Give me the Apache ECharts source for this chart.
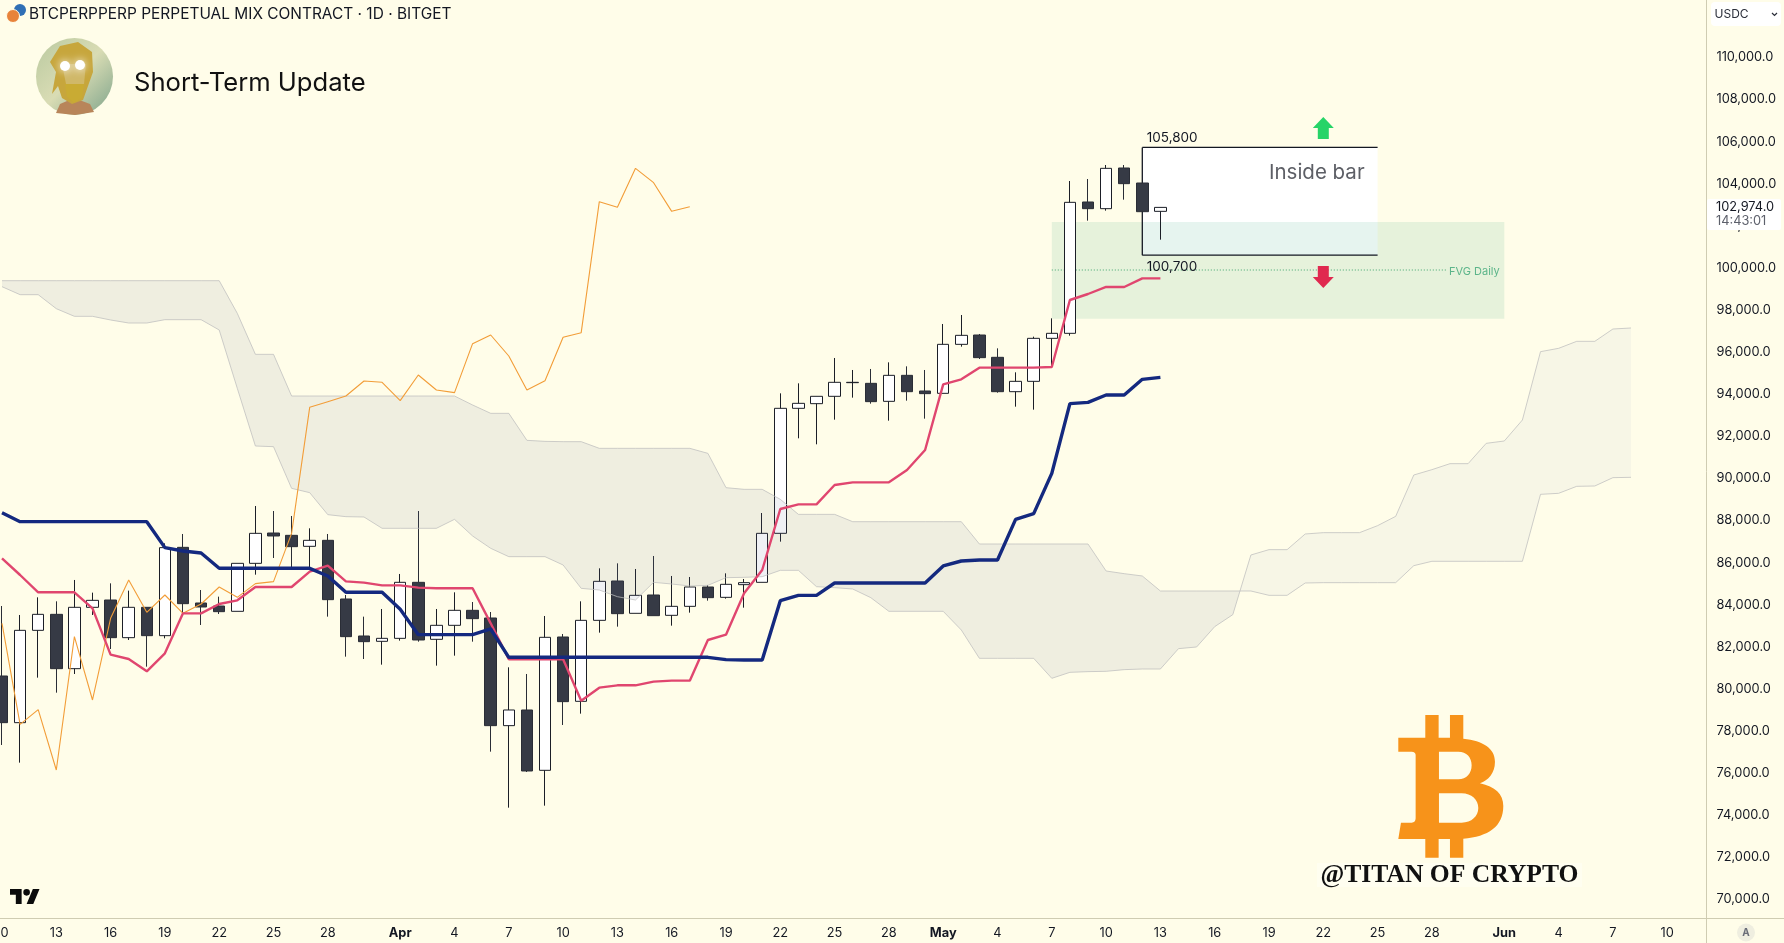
<!DOCTYPE html>
<html lang="en">
<head>
  <meta charset="UTF-8">
  <title>BTC Short-Term Update</title>
  <style>
    * { padding: 0; margin: 0; }
    html, body { width: 100%; height: 100%; background: #fffde9; overflow: hidden; }
    #chart { width: 100%; height: 100%; }
  </style>
  <script src="https://cdn.jsdelivr.net/npm/echarts@6/dist/echarts.min.js"></script>
</head>
<body>
  <div id="chart"></div>
  <script>
    // daily bars, one category per day
    var categories = [
      'Mar 10','Mar 11','Mar 12','Mar 13','Mar 14','Mar 15','Mar 16','Mar 17','Mar 18','Mar 19','Mar 20',
      'Mar 21','Mar 22','Mar 23','Mar 24','Mar 25','Mar 26','Mar 27','Mar 28','Mar 29','Mar 30','Mar 31',
      'Apr 1','Apr 2','Apr 3','Apr 4','Apr 5','Apr 6','Apr 7','Apr 8','Apr 9','Apr 10','Apr 11','Apr 12','Apr 13','Apr 14','Apr 15',
      'Apr 16','Apr 17','Apr 18','Apr 19','Apr 20','Apr 21','Apr 22','Apr 23','Apr 24','Apr 25','Apr 26','Apr 27','Apr 28','Apr 29','Apr 30',
      'May 1','May 2','May 3','May 4','May 5','May 6','May 7','May 8','May 9','May 10','May 11','May 12','May 13','May 14','May 15',
      'May 16','May 17','May 18','May 19','May 20','May 21','May 22','May 23','May 24','May 25','May 26','May 27','May 28','May 29','May 30','May 31',
      'Jun 1','Jun 2','Jun 3','Jun 4','Jun 5','Jun 6','Jun 7','Jun 8','Jun 9','Jun 10','Jun 11','Jun 12'
    ];
    var tickDates = ['Mar 10','Mar 13','Mar 16','Mar 19','Mar 22','Mar 25','Mar 28','Apr 1','Apr 4','Apr 7','Apr 10','Apr 13','Apr 16','Apr 19','Apr 22','Apr 25','Apr 28','May 1','May 4','May 7','May 10','May 13','May 16','May 19','May 22','May 25','May 28','Jun 1','Jun 4','Jun 7','Jun 10'];
    var tickLabels = ['10','13','16','19','22','25','28','Apr','4','7','10','13','16','19','22','25','28','May','4','7','10','13','16','19','22','25','28','Jun','4','7','10'];
    var priceTicks = [70000,72000,74000,76000,78000,80000,82000,84000,86000,88000,90000,92000,94000,96000,98000,100000,102000,104000,106000,108000,110000];

    var opens = [80618,78401,82787,83547,80966,83880,84228,82439,83880,82534,86730,84086,83943,83690,85970,87411,87300,86778,87063,84276,82518,82265,
      82407,85068,82360,83025,83738,83373,78259,79003,76137,82471,79415,83262,85131,83595,84466,83500,83927,84846,84355,84957,85068,87396,93334,93555,93904,94553,94521,93666,94901,94157,
      94046,96374,96817,95757,94125,94616,96659,96897,103136,102819,104751,104038,102692];
    var closes = [78401,82787,83547,80966,83880,84212,82439,83880,82534,86715,84054,83896,83674,85970,87395,87269,86762,87063,84244,82487,82249,82407,
      85068,82328,83025,83738,83342,78259,79003,76105,82455,79399,83262,85115,83579,84450,83484,83927,84846,84339,84973,85052,87395,93334,93571,93904,94569,94569,93651,94901,94125,94031,
      96374,96801,95741,94125,94616,96659,96897,103120,102819,104735,104007,102676,102880];
    var lows = [77340,76501,80539,79826,80713,83516,81901,82328,81061,82407,83516,83041,83563,83690,85432,86224,85733,85733,83437,81536,81425,81156,
      82297,82249,81109,81584,82249,77023,74363,76058,74458,78290,78829,82677,82962,83595,83484,83009,83627,84197,84292,83864,85068,87000,91909,91624,92795,93841,93555,92748,93698,92843,
      94046,96263,95677,94078,93413,93270,95313,96786,102249,102724,103247,102676,101346];
    var highs = [83943,83516,84355,84165,85179,84577,85020,84672,83880,86920,87364,84703,84387,85970,88694,88456,88219,87633,87364,84466,83437,83801,
      85464,88456,83801,84593,84133,83658,81030,80713,83468,82613,84165,85733,85970,85701,86319,85369,85321,84941,85495,85226,88361,94046,94521,93904,95725,95155,95203,95519,95329,95155,
      97340,97767,96865,96184,95044,96738,97609,104133,104228,104893,104893,104038,102880];

    var baseLine = [88377,87950,87950,87950,87950,87950,87950,87950,87950,86715,86556,86461,85733,85733,85733,85733,85733,85733,85369,84593,84593,84593,
      83785,82582,82582,82582,82582,82851,81505,81505,81505,81505,81505,81505,81505,81505,81505,81505,81505,81505,81394,81378,81378,84197,84450,84450,85036,85036,85036,85036,85036,85036,
      85844,86081,86129,86129,88060,88330,90246,93555,93619,93967,93967,94711,94807];
    var conversionLine = [86208,85416,84593,84593,84593,83833,81631,81425,80840,81695,83595,83595,84038,84212,84846,84846,84846,85574,85859,85115,85052,84925,
      84925,84814,84783,84783,84783,83120,81410,81410,81410,81410,79446,80064,80175,80175,80349,80396,80396,82328,82582,84545,85654,88552,88773,88773,89692,89818,89818,89818,90404,91354,
      94474,94711,95266,95266,95266,95266,95298,98480,98765,99098,99098,99509,99509];
    var laggingSpan = [83120,78322,79019,76153,82487,79478,83357,85179,83643,84466,83595,84038,84846,84355,85004,85099,87395,93381,93650,93920,94632,94569,
      93698,94917,94205,94078,96406,96818,95820,94205,94648,96707,96928,103152,102882,104735,104054,102692,102914];

    var spanA = [99398,99398,99398,99398,99398,99398,99398,99398,99398,99398,99398,99398,99398,97846,95899,95899,93919,93919,93919,93919,93919,93919,
      93919,93919,93919,93919,93492,93096,93096,91813,91765,91750,91750,91433,91433,91433,91433,91433,91433,91195,89564,89485,89485,89010,88297,88297,88297,87949,87949,87949,87949,87949,
      87949,87949,86889,86889,86889,86889,86889,86889,86889,85606,85479,85369,84656,84656,84656,84656,84656,84656,84450,84450,85036,85052,85052,85052,85052,85052,85860,86066,86066,86066,86066,
      86066,86066,89248,89296,89628,89644,90040,90056];
    var spanB = [99113,98733,98733,98068,97704,97704,97530,97387,97387,97545,97545,97545,97055,94283,91544,91512,89533,89327,88282,88187,88171,87633,
      87633,87633,87633,88060,87269,86683,86287,86287,86287,85891,84782,84703,84386,84228,85067,84988,84893,84925,85289,85305,85336,85637,85637,84861,84814,84751,84339,83690,83690,83690,
      83690,82803,81457,81457,81457,81457,80507,80792,80824,80840,80919,80950,80950,81917,81996,82962,83532,86366,86620,86620,87364,87427,87427,87427,87760,88203,90167,90420,90705,90705,91671,
      91782,92779,96026,96184,96516,96516,97102,97150];

    // FVG zone and inside bar box
    var fvgTop = 102185, fvgMid = 99905, fvgBottom = 97592;
    var boxHigh = 105730, boxLow = 100610;
    var arrowUp = 106651, arrowDown = 99572;
    var fvgStart = 'May 7', fvgEnd = 'Jun 1', fvgLabelEnd = 'May 29';
    var boxStart = 'May 12', boxEnd = 'May 25', arrowDate = 'May 22';

    var font = 'Inter, Roboto, sans-serif';
    var ink = '#131722';

    var chart = echarts.init(document.getElementById('chart'));

    function renderZones(params, api) {
      var tl = api.coord([fvgStart, fvgTop]);
      var br = api.coord([fvgEnd, fvgBottom]);
      var mid = api.coord([fvgStart, fvgMid]);
      var midEnd = api.coord([fvgLabelEnd, fvgMid]);
      var b1 = api.coord([boxStart, boxHigh]);
      var b2 = api.coord([boxEnd, boxLow]);
      var up = api.coord([arrowDate, arrowUp]);
      var dn = api.coord([arrowDate, arrowDown]);
      var edge = { stroke: '#131722', lineWidth: 1.3 };
      return {
        type: 'group',
        children: [
          { type: 'rect', shape: { x: b1[0], y: b1[1], width: b2[0] - b1[0], height: b2[1] - b1[1] }, style: { fill: '#fff' } },
          { type: 'rect', shape: { x: tl[0], y: tl[1], width: br[0] - tl[0], height: br[1] - tl[1] }, style: { fill: 'rgba(47,161,125,0.12)' } },
          { type: 'line', shape: { x1: mid[0], y1: mid[1], x2: midEnd[0] - 4, y2: midEnd[1] }, style: { stroke: '#3fa56f', lineWidth: 1, lineDash: [1, 2] } },
          { type: 'line', shape: { x1: b1[0], y1: b1[1], x2: b2[0], y2: b1[1] }, style: edge },
          { type: 'line', shape: { x1: b1[0], y1: b1[1], x2: b1[0], y2: b2[1] }, style: edge },
          { type: 'line', shape: { x1: b1[0], y1: b2[1], x2: b2[0], y2: b2[1] }, style: edge },
          { type: 'polygon', shape: { points: [[up[0], up[1] - 11], [up[0] + 10.5, up[1]], [up[0] + 5.5, up[1]], [up[0] + 5.5, up[1] + 11], [up[0] - 5.5, up[1] + 11], [up[0] - 5.5, up[1]], [up[0] - 10.5, up[1]]] }, style: { fill: '#27d468' } },
          { type: 'polygon', shape: { points: [[dn[0], dn[1] + 11], [dn[0] + 10.5, dn[1]], [dn[0] + 5.5, dn[1]], [dn[0] + 5.5, dn[1] - 11], [dn[0] - 5.5, dn[1] - 11], [dn[0] - 5.5, dn[1]], [dn[0] - 10.5, dn[1]]] }, style: { fill: '#e0294f' } },
          { type: 'text', style: { text: '105,800', x: b1[0] + 4.5, y: b1[1] - 9, fill: ink, fontSize: 13.5, fontFamily: font, verticalAlign: 'middle' } },
          { type: 'text', style: { text: '100,700', x: b1[0] + 4.5, y: b2[1] + 11.5, fill: ink, fontSize: 13.5, fontFamily: font, verticalAlign: 'middle' } },
          { type: 'text', style: { text: 'Inside bar', x: b2[0] - 13, y: b1[1] + 25.5, fill: '#5d5f66', fontSize: 20.5, fontFamily: font, align: 'right', verticalAlign: 'middle' } },
          { type: 'text', style: { text: 'FVG Daily', x: midEnd[0] - 1, y: mid[1] + 2, fill: '#5cb58a', fontSize: 11, fontFamily: font, verticalAlign: 'middle' } }
        ]
      };
    }

    // cloud is one shape, split where the two spans cross
    function renderCloud(params, api) {
      var crossAt = 0;
      for (var i = 0; i < spanA.length - 1; i++) {
        if ((spanA[i] - spanB[i]) * (spanA[i + 1] - spanB[i + 1]) < 0) crossAt = i;
      }
      var pa = spanA.map(function (v, n) { return api.coord([categories[n], v]); });
      var pb = spanB.map(function (v, n) { return api.coord([categories[n], v]); });
      var d0 = pa[crossAt][1] - pb[crossAt][1], d1 = pa[crossAt + 1][1] - pb[crossAt + 1][1];
      var t = d0 / (d0 - d1);
      var cross = [pa[crossAt][0] + (pa[crossAt + 1][0] - pa[crossAt][0]) * t, pa[crossAt][1] + (pa[crossAt + 1][1] - pa[crossAt][1]) * t];
      var firstPart = pa.slice(0, crossAt + 1).concat([cross], pb.slice(0, crossAt + 1).reverse());
      var secondPart = [cross].concat(pa.slice(crossAt + 1), pb.slice(crossAt + 1).reverse());
      return {
        type: 'group',
        children: [
          { type: 'polygon', shape: { points: firstPart }, style: { fill: 'rgba(105,112,150,0.105)' } },
          { type: 'polygon', shape: { points: secondPart }, style: { fill: 'rgba(100,112,170,0.05)' } }
        ]
      };
    }

    // logos are paths, the graphic component does not take those
    function renderLogos() {
      return {
        type: 'group',
        children: [
          { type: 'path', shape: { pathData: 'M14 22H7V11H0V4h14v18zM28 22h-8l7.5-18h8L28 22zM24 8a4 4 0 1 1-8 0a4 4 0 1 1 8 0z', layout: 'cover', x: 10, y: 889, width: 29.5, height: 15 }, style: { fill: '#0b0b0b' } },
          { type: 'path', shape: {
              pathData: 'M436 75H476V143H510V75H550V146C610 152 645 175 645 215C645 250 625 270 600 280C645 290 670 312 670 348C670 410 625 440 550 446V503H510V447H476V503H436V447H355L363 398H395C403 398 407 393 407 385V195C407 190 403 185 395 185H355V143H436Z M477 185V268H535C560 268 575 250 575 226C575 202 560 185 535 185Z M477 310V398H545C575 398 595 378 595 354C595 330 575 310 545 310Z',
              layout: 'cover', x: 1398.3, y: 715, width: 105, height: 142.7
            }, style: { fill: '#f7931a' } }
        ]
      };
    }

    function spanSeries(name, values) {
      return {
        type: 'line', name: name, data: values, z: 4, showSymbol: false, silent: true,
        lineStyle: { color: 'rgba(190,190,190,0.75)', width: 1 }
      };
    }

    var option = {
      backgroundColor: '#fffde9',
      animation: false,
      textStyle: { fontFamily: font },
      // negative left so Mar 10 sits on the page edge, v6 would pull it back otherwise
      grid: { left: -7.05, width: 1719.5, top: 0, height: 918, outerBoundsMode: 'none' },
      xAxis: {
        type: 'category',
        data: categories,
        boundaryGap: true,
        axisLine: { show: false },
        axisTick: { show: false },
        splitLine: { show: false },
        axisLabel: {
          color: ink,
          fontSize: 12.8,
          margin: 9,
          hideOverlap: false,
          showMinLabel: true,
          interval: function (i, name) { return tickDates.indexOf(name) !== -1; },
          formatter: function (name) {
            var label = tickLabels[tickDates.indexOf(name)];
            return isNaN(+label) ? '{b|' + label + '}' : label;
          },
          rich: { b: { fontWeight: 'bold', fontSize: 12.8, color: ink, fontFamily: font } }
        }
      },
      yAxis: {
        type: 'value',
        position: 'right',
        min: 69121,
        max: 112732,
        axisLine: { show: false },
        axisTick: { show: false },
        splitLine: { show: false },
        axisLabel: {
          customValues: priceTicks,
          color: ink,
          fontSize: 12.8,
          margin: 4,
          align: 'left',
          formatter: function (v) { return v.toLocaleString('en-US', { minimumFractionDigits: 1 }); }
        }
      },
      series: [
        { type: 'custom', name: 'zones', coordinateSystem: 'cartesian2d', data: [[0, 0]], renderItem: renderZones, z: 1, silent: true },
        {
          type: 'candlestick',
          name: 'BTC',
          data: opens.map(function (o, i) { return [o, closes[i], lows[i], highs[i]]; }),
          barWidth: 12,
          z: 2,
          silent: true,
          itemStyle: { color: '#ffffff', color0: '#363a45', borderColor: '#1b1e27', borderColor0: '#2a2d36', borderWidth: 1 }
        },
        { type: 'custom', name: 'cloud', coordinateSystem: 'cartesian2d', data: [[0, 0]], renderItem: renderCloud, z: 3, silent: true },
        spanSeries('Span A', spanA),
        spanSeries('Span B', spanB),
        { type: 'line', name: 'Lagging', data: laggingSpan, z: 5, showSymbol: false, silent: true, lineStyle: { color: '#f29d38', width: 1.1 } },
        { type: 'line', name: 'Conversion', data: conversionLine, z: 6, showSymbol: false, silent: true, lineStyle: { color: '#e0466f', width: 2.4 } },
        { type: 'line', name: 'Base', data: baseLine, z: 6, showSymbol: false, silent: true, lineStyle: { color: '#14297f', width: 3.4 } },
        { type: 'custom', name: 'logos', coordinateSystem: 'none', data: [[0]], renderItem: renderLogos, z: 20, silent: true }
      ],
      graphic: [
        // pane separators
        { type: 'line', z: 20, shape: { x1: 1706.5, y1: 0, x2: 1706.5, y2: 943 }, style: { stroke: '#cfccb2', lineWidth: 1 } },
        { type: 'line', z: 20, shape: { x1: 0, y1: 918.5, x2: 1784, y2: 918.5 }, style: { stroke: '#cfccb2', lineWidth: 1 } },
        // header
        { type: 'circle', z: 20, shape: { cx: 20, cy: 10, r: 6 }, style: { fill: '#2f6fb5' } },
        { type: 'circle', z: 21, shape: { cx: 13, cy: 16, r: 6.5 }, style: { fill: '#e8833a', stroke: '#fffde9', lineWidth: 1 } },
        { type: 'text', z: 20, style: { text: 'BTCPERPPERP PERPETUAL MIX CONTRACT · 1D · BITGET', x: 29, y: 14, fill: ink, fontSize: 15.45, fontFamily: font, verticalAlign: 'middle' } },
        { type: 'text', z: 20, style: { text: 'Short-Term Update', x: 134, y: 83, fill: '#111', fontSize: 25.6, fontFamily: font, verticalAlign: 'middle' } },
        // avatar
        { type: 'circle', z: 20, shape: { cx: 74.5, cy: 76.5, r: 38.5 }, style: { fill: new echarts.graphic.LinearGradient(0, 0, 1, 1, [{ offset: 0, color: '#b9c9a0' }, { offset: 0.5, color: '#d9dcb4' }, { offset: 1, color: '#7da38a' }]) } },
        { type: 'polygon', z: 21, shape: { points: [[56, 113], [60, 104], [74, 98], [90, 104], [94, 112], [75, 115]] }, style: { fill: '#b8855a' } },
        { type: 'polygon', z: 21, shape: { points: [[50, 62], [60, 46], [78, 42], [92, 52], [93, 72], [88, 86], [83, 100], [72, 104], [62, 98], [58, 86], [52, 94], [56, 72]] }, style: { fill: '#c7a63c' } },
        { type: 'polygon', z: 22, shape: { points: [[62, 64], [86, 64], [84, 84], [75, 90], [66, 84]] }, style: { fill: '#d0b868' } },
        { type: 'polygon', z: 22, shape: { points: [[65, 84], [84, 84], [82, 98], [74, 103], [67, 97]] }, style: { fill: '#c9ab33' } },
        { type: 'circle', z: 23, shape: { cx: 65, cy: 66, r: 5 }, style: { fill: '#fff', shadowBlur: 9, shadowColor: '#fff' } },
        { type: 'circle', z: 23, shape: { cx: 80, cy: 65, r: 5 }, style: { fill: '#fff', shadowBlur: 9, shadowColor: '#fff' } },
        // usdc selector
        { type: 'rect', z: 20, shape: { x: 1711, y: 2, width: 70, height: 24, r: 4 }, style: { fill: '#ffffff' } },
        { type: 'text', z: 21, style: { text: 'USDC', x: 1714.5, y: 14, fill: '#2a2e39', fontSize: 12, fontFamily: font, verticalAlign: 'middle' } },
        { type: 'polyline', z: 21, shape: { points: [[1772, 13], [1774.5, 15.5], [1777, 13]] }, style: { stroke: '#2a2e39', lineWidth: 1.2, fill: null } },
        // last price tag
        { type: 'rect', z: 20, shape: { x: 1707, y: 199, width: 74, height: 31, r: 2 }, style: { fill: '#ffffff' } },
        { type: 'text', z: 21, style: { text: '102,974.0', x: 1716, y: 207.5, fill: ink, fontSize: 12.8, fontFamily: font, verticalAlign: 'middle' } },
        { type: 'text', z: 21, style: { text: '14:43:01', x: 1716, y: 220.7, fill: '#5d606b', fontSize: 12.8, fontFamily: font, verticalAlign: 'middle' } },
        // auto scale button
        { type: 'circle', z: 20, shape: { cx: 1746, cy: 932.5, r: 9 }, style: { fill: '#efeee0' } },
        { type: 'text', z: 21, style: { text: 'A', x: 1746, y: 932.5, fill: '#6a6d78', fontSize: 10, fontWeight: 'bold', fontFamily: font, align: 'center', verticalAlign: 'middle' } },
        // watermark handle
        { type: 'rect', z: 20, shape: { x: 1317, y: 863, width: 265, height: 24 }, style: { fill: '#fffef0' } },
        { type: 'text', z: 21, style: { text: '@TITAN OF CRYPTO', x: 1449.5, y: 875, fill: '#111', fontSize: 25.6, fontWeight: 'bold', fontFamily: '"Liberation Serif", serif', align: 'center', verticalAlign: 'middle' } }
      ]
    };

    chart.setOption(option);
  </script>
</body>
</html>
